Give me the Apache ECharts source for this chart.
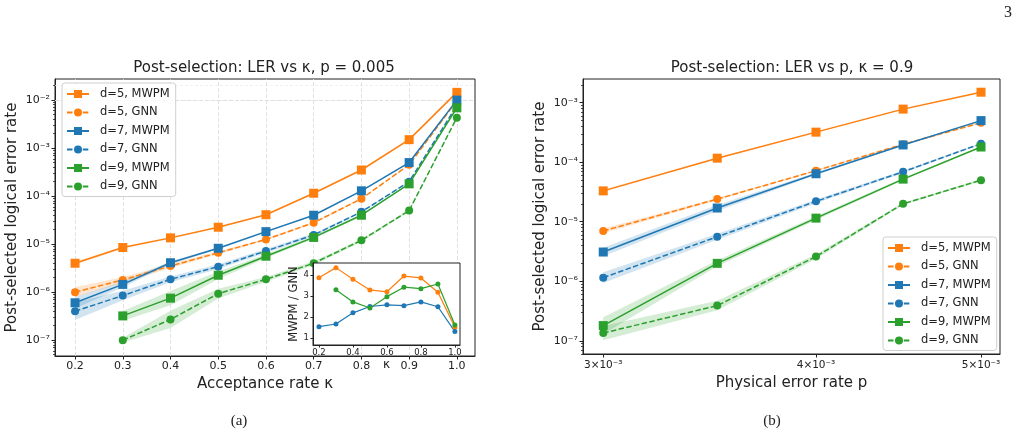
<!DOCTYPE html>
<html>
<head>
<meta charset="utf-8">
<script src="https://cdn.jsdelivr.net/npm/echarts@6/dist/echarts.min.js"></script>
<style>
  html, body { margin: 0; padding: 0; background: #fff; }
  #chart { width: 1019px; height: 438px; }
</style>
</head>
<body>
<div id="chart"></div>
<script>
  // acceptance rate κ (left panel and inset)
  const kappa = [0.2, 0.3, 0.4, 0.5, 0.6, 0.7, 0.8, 0.9, 1.0]
  const kappaTicks = [0.2, 0.3, 0.4, 0.5, 0.6, 0.7, 0.8, 0.9, 1.0]
  const kappaInsetTicks = [0.2, 0.4, 0.6, 0.8, 1.0]

  // LER vs κ, p = 0.005
  const lerK_d5_mwpm = [4.0e-6, 8.5e-6, 1.35e-5, 2.25e-5, 4.1e-5, 1.15e-4, 3.5e-4, 1.5e-3, 1.45e-2]
  const lerK_d5_gnn = [1.0e-6, 1.8e-6, 3.5e-6, 6.6e-6, 1.25e-5, 2.8e-5, 8.8e-5, 4.5e-4, 9.7e-3]
  const lerK_d7_mwpm = [6.0e-7, 1.45e-6, 4.1e-6, 8.2e-6, 1.82e-5, 4.0e-5, 1.29e-4, 5.0e-4, 1.0e-2]
  const lerK_d7_gnn = [4.0e-7, 8.5e-7, 1.85e-6, 3.4e-6, 7.2e-6, 1.55e-5, 4.7e-5, 2.0e-4, 7.7e-3]
  const lerK_d9_mwpm = [null, 3.2e-7, 7.5e-7, 2.25e-6, 5.6e-6, 1.38e-5, 4.0e-5, 1.8e-4, 6.9e-3]
  const lerK_d9_gnn = [null, 1.0e-7, 2.7e-7, 9.3e-7, 1.85e-6, 4.0e-6, 1.2e-5, 5.0e-5, 4.3e-3]

  // half width of the shaded band, in decades
  const errK_d5_mwpm = [0.03, 0.02, 0.02, 0.01, 0.01, 0.01, 0.01, 0.01, 0.01]
  const errK_d5_gnn = [0.1, 0.06, 0.04, 0.03, 0.02, 0.02, 0.01, 0.01, 0.01]
  const errK_d7_mwpm = [0.12, 0.06, 0.03, 0.02, 0.02, 0.01, 0.01, 0.01, 0.01]
  const errK_d7_gnn = [0.18, 0.1, 0.06, 0.05, 0.04, 0.03, 0.02, 0.01, 0.01]
  const errK_d9_mwpm = [null, 0.1, 0.15, 0.08, 0.04, 0.03, 0.02, 0.01, 0.01]
  const errK_d9_gnn = [null, 0.05, 0.18, 0.1, 0.05, 0.04, 0.03, 0.02, 0.01]

  // inset: MWPM / GNN
  const ratio_d5 = [3.87, 4.35, 3.8, 3.29, 3.2, 3.95, 3.86, 3.18, 1.52]
  const ratio_d7 = [1.54, 1.67, 2.2, 2.5, 2.58, 2.54, 2.72, 2.49, 1.31]
  const ratio_d9 = [null, 3.3, 2.72, 2.43, 2.97, 3.42, 3.35, 3.57, 1.62]

  // LER vs p, κ = 0.9
  const pRates = [0.003, 0.0035, 0.004, 0.0045, 0.005]
  const pTicks = [0.003, 0.004, 0.005]
  const lerP_d5_mwpm = [3.3e-5, 1.17e-4, 3.2e-4, 7.8e-4, 1.5e-3]
  const lerP_d5_gnn = [7.0e-6, 2.4e-5, 7.2e-5, 2.0e-4, 4.6e-4]
  const lerP_d7_mwpm = [3.1e-6, 1.7e-5, 6.4e-5, 1.95e-4, 5.0e-4]
  const lerP_d7_gnn = [1.15e-6, 5.6e-6, 2.2e-5, 6.9e-5, 2.05e-4]
  const lerP_d9_mwpm = [1.8e-7, 2.0e-6, 1.15e-5, 5.2e-5, 1.8e-4]
  const lerP_d9_gnn = [1.35e-7, 3.9e-7, 2.6e-6, 2.0e-5, 5.0e-5]

  const errP_d5_mwpm = [0.02, 0.01, 0.01, 0.01, 0.01]
  const errP_d5_gnn = [0.04, 0.02, 0.01, 0.01, 0.01]
  const errP_d7_mwpm = [0.07, 0.05, 0.02, 0.01, 0.01]
  const errP_d7_gnn = [0.09, 0.05, 0.03, 0.02, 0.01]
  const errP_d9_mwpm = [0.14, 0.05, 0.03, 0.02, 0.01]
  const errP_d9_gnn = [0.12, 0.08, 0.04, 0.02, 0.02]

  const decadesK = [1e-7, 1e-6, 1e-5, 1e-4, 1e-3, 1e-2]
  const decadesP = [1e-7, 1e-6, 1e-5, 1e-4, 1e-3]
  const legendNames = ['d=5, MWPM', 'd=5, GNN', 'd=7, MWPM', 'd=7, GNN', 'd=9, MWPM', 'd=9, GNN']

  const ORANGE = '#ff7f0e'
  const BLUE = '#1f77b4'
  const GREEN = '#2ca02c'
  const DASH = [5.5, 2.4]
  const INK = '#222'
  const FONT = 'DejaVu Sans'

  const SUP = { '-': '⁻', 0: '⁰', 1: '¹', 2: '²', 3: '³', 4: '⁴', 5: '⁵', 6: '⁶', 7: '⁷', 8: '⁸', 9: '⁹' }
  const sup = (n) => String(n).split('').map((c) => SUP[c]).join('')
  const powLabel = (v) => '10' + sup(Math.round(Math.log10(v)))

  // minor log positions (2..9 x 10^e) inside a range
  const minorsBetween = (lo, hi) => {
    const out = []
    for (let e = -9; e <= -1; e++) {
      for (let m = 2; m <= 9; m++) {
        const v = m * Math.pow(10, e)
        if (v > lo && v < hi) out.push(v)
      }
    }
    return out
  }

  const yRangeK = [4.68e-8, 2.75e-2]
  const yRangeP = [6.0e-8, 2.5e-3]
  const minorsK = minorsBetween(yRangeK[0], yRangeK[1])
  const minorsP = minorsBetween(yRangeP[0], yRangeP[1])

  const pairs = (xs, ys) => xs.map((x, i) => [x, ys[i]])

  const curve = (name, xs, ys, color, gnn, gi) => ({
    type: 'line',
    name,
    xAxisIndex: gi,
    yAxisIndex: gi,
    data: pairs(xs, ys),
    symbol: gnn ? 'circle' : 'rect',
    symbolSize: gnn ? 8 : 9,
    showAllSymbol: true,
    lineStyle: { color, width: 1.5, type: gnn ? DASH : 'solid' },
    itemStyle: { color, borderWidth: 0 },
    emphasis: { disabled: true },
    z: 5
  })

  // shaded uncertainty band, drawn through the axis scale
  const band = (xs, ys, err, color, gi) => ({
    type: 'custom',
    xAxisIndex: gi,
    yAxisIndex: gi,
    silent: true,
    z: 3,
    data: [[xs[1], ys[1]]],
    renderItem: (params, api) => {
      const top = []
      const bot = []
      xs.forEach((x, i) => {
        if (ys[i] == null) return
        const f = Math.pow(10, err[i])
        top.push(api.coord([x, ys[i] * f]))
        bot.unshift(api.coord([x, ys[i] / f]))
      })
      return {
        type: 'polygon',
        shape: { points: top.concat(bot) },
        style: { fill: color, opacity: 0.2 }
      }
    }
  })

  const majorGrid = { color: '#dadada', type: [4, 2], width: 0.8 }
  const minorGrid = { color: '#ececec', type: [3, 2], width: 0.8 }
  const gridLines = (gi, xs, major, minor) => ({
    type: 'line',
    xAxisIndex: gi,
    yAxisIndex: gi,
    data: [],
    silent: true,
    z: 1,
    markLine: {
      silent: true,
      symbol: ['none', 'none'],
      label: { show: false },
      emphasis: { disabled: true },
      data: [
        ...minor.map((v) => ({ yAxis: v, lineStyle: minorGrid })),
        ...major.map((v) => ({ yAxis: v, lineStyle: majorGrid })),
        ...xs.map((v) => ({ xAxis: v, lineStyle: majorGrid }))
      ]
    }
  })

  const ratioLine = (name, ys, color) => ({
    type: 'line',
    name,
    xAxisIndex: 2,
    yAxisIndex: 2,
    data: pairs(kappa, ys),
    symbol: 'circle',
    symbolSize: 5,
    showAllSymbol: true,
    lineStyle: { color, width: 1.2 },
    itemStyle: { color, borderWidth: 0 },
    emphasis: { disabled: true },
    z: 12
  })

  const legendBox = (left, top) => ({
    left,
    top,
    orient: 'vertical',
    data: legendNames,
    itemWidth: 22,
    itemHeight: 10,
    itemGap: 6.5,
    padding: [5, 6, 4, 4],
    backgroundColor: 'rgba(255,255,255,0.85)',
    borderColor: '#cfcfcf',
    borderWidth: 1,
    borderRadius: 3,
    selectedMode: false,
    z: 8,
    textStyle: { fontSize: 11.5, lineHeight: 10, color: INK, fontFamily: FONT, padding: [0, 0, 0, 6] }
  })

  const tickStyle = { lineStyle: { color: INK, width: 1 } }

  const chart = echarts.init(document.getElementById('chart'))
  chart.setOption({
    animation: false,
    backgroundColor: '#fff',
    textStyle: { fontFamily: FONT },
    grid: [
      { left: 55, top: 79, width: 420, height: 277, show: true, borderColor: INK, borderWidth: 1 },
      { left: 583, top: 79, width: 417, height: 275, show: true, borderColor: INK, borderWidth: 1 },
      { left: 313, top: 263, width: 147, height: 82, show: true, backgroundColor: '#fff', borderColor: INK, borderWidth: 1, z: 10 }
    ],
    xAxis: [
      {
        type: 'value', gridIndex: 0, min: 0.158, max: 1.038,
        name: 'Acceptance rate κ', nameLocation: 'middle', nameGap: 16,
        nameTextStyle: { fontSize: 15, color: INK },
        axisLine: { lineStyle: { color: INK } },
        axisTick: { customValues: kappaTicks, length: 3.5, ...tickStyle },
        axisLabel: { customValues: kappaTicks, fontSize: 11, color: INK, margin: 5, formatter: (v) => v.toFixed(1) },
        splitLine: { show: false }
      },
      {
        type: 'log', gridIndex: 1, min: 2.919e-3, max: 5.13e-3,
        name: 'Physical error rate p', nameLocation: 'middle', nameGap: 18,
        nameTextStyle: { fontSize: 15, color: INK },
        axisLine: { lineStyle: { color: INK } },
        axisTick: { customValues: pTicks, length: 3.5, ...tickStyle },
        axisLabel: { customValues: pTicks, fontSize: 10.5, color: INK, margin: 6, formatter: (v) => Math.round(v * 1000) + '×10⁻³' },
        splitLine: { show: false }
      },
      {
        type: 'value', gridIndex: 2, min: 0.165, max: 1.03, z: 11,
        name: 'κ', nameLocation: 'middle', nameGap: 14,
        nameTextStyle: { fontSize: 12, color: INK },
        axisLine: { lineStyle: { color: INK } },
        axisTick: { customValues: kappaInsetTicks, length: 2.5, ...tickStyle },
        axisLabel: { customValues: kappaInsetTicks, fontSize: 8.5, color: INK, margin: 3, formatter: (v) => v.toFixed(1) },
        splitLine: { show: false }
      }
    ],
    yAxis: [
      {
        type: 'log', logBase: 10, gridIndex: 0, min: yRangeK[0], max: yRangeK[1],
        name: 'Post-selected logical error rate', nameLocation: 'middle', nameGap: 35,
        nameTextStyle: { fontSize: 15, color: INK },
        axisLine: { lineStyle: { color: INK } },
        axisTick: { customValues: decadesK, length: 3.5, ...tickStyle },
        axisLabel: { customValues: decadesK, fontSize: 11, color: INK, margin: 5, formatter: powLabel },
        splitLine: { show: false }
      },
      {
        type: 'log', logBase: 10, gridIndex: 1, min: yRangeP[0], max: yRangeP[1],
        name: 'Post-selected logical error rate', nameLocation: 'middle', nameGap: 35,
        nameTextStyle: { fontSize: 15, color: INK },
        axisLine: { lineStyle: { color: INK } },
        axisTick: { customValues: decadesP, length: 3.5, ...tickStyle },
        axisLabel: { customValues: decadesP, fontSize: 11, color: INK, margin: 5, formatter: powLabel },
        splitLine: { show: false }
      },
      {
        type: 'value', gridIndex: 2, min: 0.67, max: 4.57, z: 11,
        name: 'MWPM / GNN', nameLocation: 'middle', nameGap: 12,
        nameTextStyle: { fontSize: 11.5, color: INK },
        axisLine: { lineStyle: { color: INK } },
        axisTick: { customValues: [1, 2, 3, 4], length: 2.5, ...tickStyle },
        axisLabel: { customValues: [1, 2, 3, 4], fontSize: 8.5, color: INK, margin: 4 },
        splitLine: { show: false }
      },
      // minor ticks only
      {
        type: 'log', logBase: 10, gridIndex: 0, min: yRangeK[0], max: yRangeK[1], position: 'left',
        axisLine: { show: false }, axisLabel: { show: false }, splitLine: { show: false },
        axisTick: { customValues: minorsK, length: 2, lineStyle: { color: INK, width: 0.8 } }
      },
      {
        type: 'log', logBase: 10, gridIndex: 1, min: yRangeP[0], max: yRangeP[1], position: 'left',
        axisLine: { show: false }, axisLabel: { show: false }, splitLine: { show: false },
        axisTick: { customValues: minorsP, length: 2, lineStyle: { color: INK, width: 0.8 } }
      }
    ],
    legend: [legendBox(62, 83), legendBox(883, 237)],
    graphic: {
      elements: [
        { type: 'text', x: 264, y: 68, style: { text: 'Post-selection: LER vs κ, p = 0.005', fontSize: 15, fontFamily: FONT, fill: INK, align: 'center', verticalAlign: 'middle' } },
        { type: 'text', x: 792, y: 68, style: { text: 'Post-selection: LER vs p, κ = 0.9', fontSize: 15, fontFamily: FONT, fill: INK, align: 'center', verticalAlign: 'middle' } },
        { type: 'text', x: 239, y: 421, style: { text: '(a)', fontSize: 15, fontFamily: 'Liberation Serif', fill: INK, align: 'center', verticalAlign: 'middle' } },
        { type: 'text', x: 772, y: 421, style: { text: '(b)', fontSize: 15, fontFamily: 'Liberation Serif', fill: INK, align: 'center', verticalAlign: 'middle' } },
        { type: 'text', x: 1008, y: 13, style: { text: '3', fontSize: 16, fontFamily: 'Liberation Serif', fill: INK, align: 'center', verticalAlign: 'middle' } }
      ]
    },
    series: [
      gridLines(0, kappaTicks, decadesK, minorsK),
      gridLines(1, pTicks, decadesP, minorsP),

      band(kappa, lerK_d5_mwpm, errK_d5_mwpm, ORANGE, 0),
      band(kappa, lerK_d5_gnn, errK_d5_gnn, ORANGE, 0),
      band(kappa, lerK_d7_mwpm, errK_d7_mwpm, BLUE, 0),
      band(kappa, lerK_d7_gnn, errK_d7_gnn, BLUE, 0),
      band(kappa, lerK_d9_mwpm, errK_d9_mwpm, GREEN, 0),
      band(kappa, lerK_d9_gnn, errK_d9_gnn, GREEN, 0),
      curve('d=5, MWPM', kappa, lerK_d5_mwpm, ORANGE, false, 0),
      curve('d=5, GNN', kappa, lerK_d5_gnn, ORANGE, true, 0),
      curve('d=7, MWPM', kappa, lerK_d7_mwpm, BLUE, false, 0),
      curve('d=7, GNN', kappa, lerK_d7_gnn, BLUE, true, 0),
      curve('d=9, MWPM', kappa, lerK_d9_mwpm, GREEN, false, 0),
      curve('d=9, GNN', kappa, lerK_d9_gnn, GREEN, true, 0),

      band(pRates, lerP_d5_mwpm, errP_d5_mwpm, ORANGE, 1),
      band(pRates, lerP_d5_gnn, errP_d5_gnn, ORANGE, 1),
      band(pRates, lerP_d7_mwpm, errP_d7_mwpm, BLUE, 1),
      band(pRates, lerP_d7_gnn, errP_d7_gnn, BLUE, 1),
      band(pRates, lerP_d9_mwpm, errP_d9_mwpm, GREEN, 1),
      band(pRates, lerP_d9_gnn, errP_d9_gnn, GREEN, 1),
      curve('d=5, MWPM', pRates, lerP_d5_mwpm, ORANGE, false, 1),
      curve('d=5, GNN', pRates, lerP_d5_gnn, ORANGE, true, 1),
      curve('d=7, MWPM', pRates, lerP_d7_mwpm, BLUE, false, 1),
      curve('d=7, GNN', pRates, lerP_d7_gnn, BLUE, true, 1),
      curve('d=9, MWPM', pRates, lerP_d9_mwpm, GREEN, false, 1),
      curve('d=9, GNN', pRates, lerP_d9_gnn, GREEN, true, 1),

      {
        type: 'line', name: 'ratio ref', xAxisIndex: 2, yAxisIndex: 2, data: [], silent: true, z: 11,
        markLine: {
          silent: true, symbol: ['none', 'none'], label: { show: false }, emphasis: { disabled: true },
          lineStyle: { color: '#000', width: 3, type: [3, 5], cap: 'butt' },
          data: [{ yAxis: 1 }]
        }
      },
      ratioLine('ratio d=5', ratio_d5, ORANGE),
      ratioLine('ratio d=7', ratio_d7, BLUE),
      ratioLine('ratio d=9', ratio_d9, GREEN)
    ]
  })
</script>
</body>
</html>
